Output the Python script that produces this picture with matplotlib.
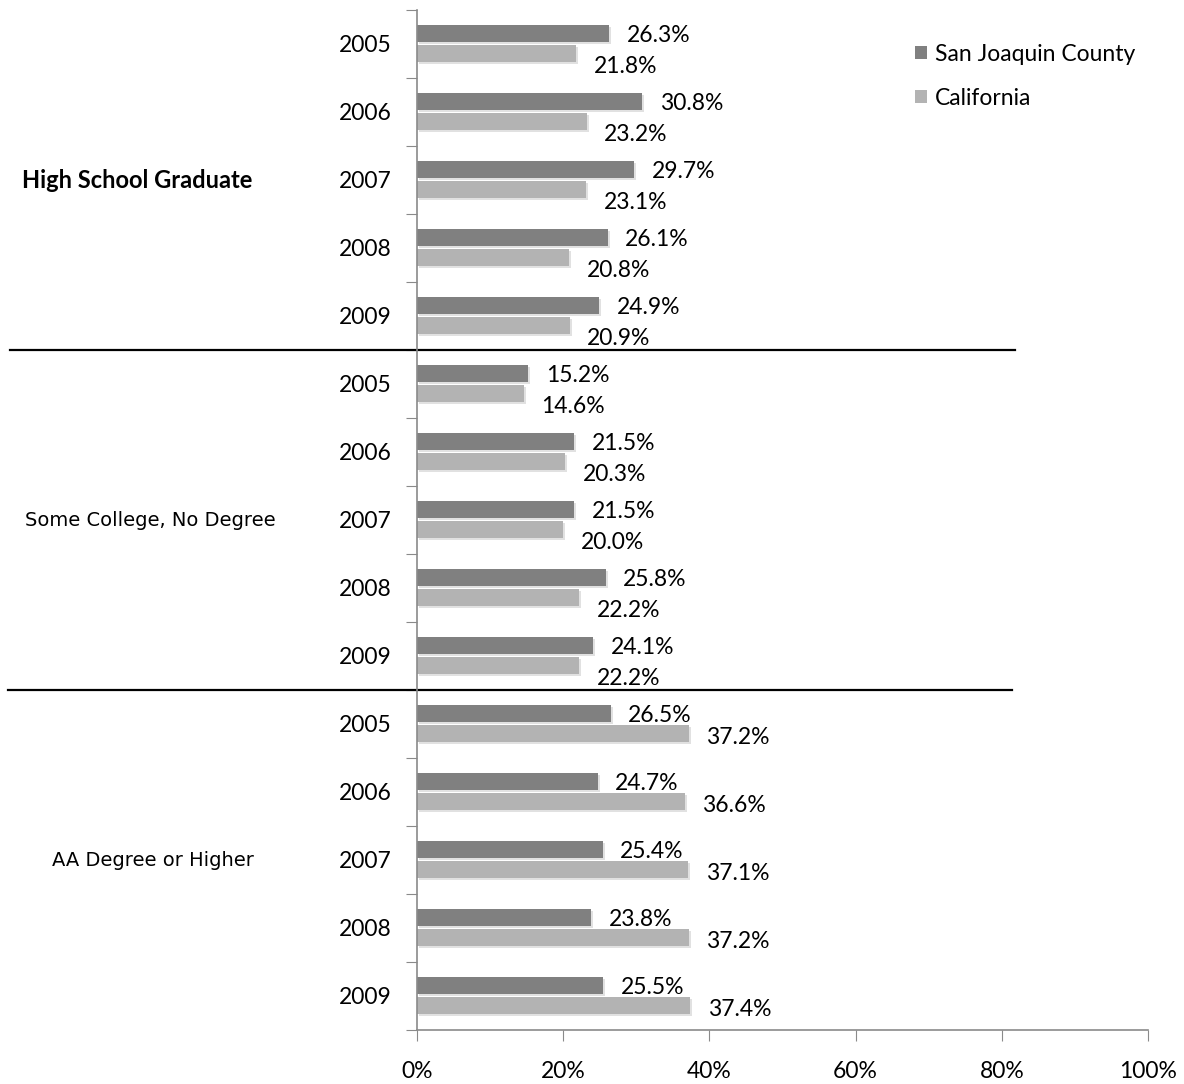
import matplotlib
matplotlib.use("Agg")
import matplotlib.pyplot as plt
import matplotlib.patheffects as pe
from matplotlib.transforms import blended_transform_factory
import numpy as np

categories = ["High School Graduate", "Some College, No Degree", "AA Degree or Higher"]
years = ["2005", "2006", "2007", "2008", "2009"]
series_names = ["San Joaquin County", "California"]

sj_hs = [26.3, 30.8, 29.7, 26.1, 24.9]
ca_hs = [21.8, 23.2, 23.1, 20.8, 20.9]
sj_sc = [15.2, 21.5, 21.5, 25.8, 24.1]
ca_sc = [14.6, 20.3, 20.0, 22.2, 22.2]
sj_aa = [26.5, 24.7, 25.4, 23.8, 25.5]
ca_aa = [37.2, 36.6, 37.1, 37.2, 37.4]

xticks = [0, 20, 40, 60, 80, 100]

dark = "#808080"
light = "#b3b3b3"
axis_gray = "#8a8a8a"
main_font = ["Lato", "DejaVu Sans"]
fs = 16.5

sj = sj_hs + sj_sc + sj_aa
ca = ca_hs + ca_sc + ca_aa
n = len(sj)
pos = np.arange(n)

fig = plt.figure(figsize=(11.84, 10.84), dpi=100)
ax = fig.add_axes([417 / 1184, 1 - 1030 / 1084, (1148 - 417) / 1184, 1020 / 1084])

shadow = [pe.SimplePatchShadow(offset=(1.5, -1.5), shadow_rgbFace="#aaaaaa", alpha=0.35), pe.Normal()]
h = 0.26
b1 = ax.barh(pos - 0.155, sj, height=h, color=dark, label=series_names[0])
b2 = ax.barh(pos + 0.14, ca, height=h, color=light, label=series_names[1])
for bar in list(b1) + list(b2):
    bar.set_path_effects(shadow)

for i in range(n):
    ax.text(sj[i] + 2.4, pos[i] - 0.12, f"{sj[i]:.1f}%", va="center", ha="left",
            fontsize=fs, family=main_font)
    dy = 0.33 if ca[i] < sj[i] + 5 else 0.2
    ax.text(ca[i] + 2.4, pos[i] + dy, f"{ca[i]:.1f}%", va="center", ha="left",
            fontsize=fs, family=main_font)

ax.set_xlim(0, 100)
ax.set_ylim(n - 0.5, -0.5)
ax.set_xticks(xticks)
ax.set_xticklabels([f"{t}%" for t in xticks], fontsize=fs, family=main_font)
ax.tick_params(axis="x", length=8, pad=14, color=axis_gray, direction="out")

ax.set_yticks(np.arange(n + 1) - 0.5)
ax.set_yticklabels([])
ax.set_yticks(pos, minor=True)
ax.set_yticklabels(years * 3, minor=True, fontsize=fs, family=main_font)
ax.tick_params(axis="y", which="major", length=8, color=axis_gray)
ax.tick_params(axis="y", which="minor", length=0, pad=18)

for s in ["top", "right"]:
    ax.spines[s].set_visible(False)
for s in ["left", "bottom"]:
    ax.spines[s].set_color(axis_gray)
    ax.spines[s].set_linewidth(1.2)

# group separators across the whole figure width
tr = blended_transform_factory(fig.transFigure, ax.transData)
ax.plot([10 / 1184, 1015 / 1184], [4.5, 4.5], color="black", lw=1.6, transform=tr, clip_on=False)
ax.plot([8 / 1184, 1012 / 1184], [9.5, 9.5], color="black", lw=1.6, transform=tr, clip_on=False)

# category labels
ax.text(22 / 1184, 2, categories[0], transform=tr, va="center", ha="left",
        fontsize=17, fontweight="bold", family=main_font)
ax.text(25 / 1184, 7, categories[1], transform=tr, va="center", ha="left",
        fontsize=14, family="DejaVu Sans")
ax.text(52 / 1184, 12, categories[2], transform=tr, va="center", ha="left",
        fontsize=14, family="DejaVu Sans")

leg = ax.legend(loc="upper left", bbox_to_anchor=(894 / 1184, 1 - 23 / 1084),
                bbox_transform=fig.transFigure, frameon=False,
                prop={"family": main_font, "size": fs},
                handlelength=0.55, handleheight=0.45, handletextpad=0.35, labelspacing=1.0)
for hnd in leg.legend_handles:
    hnd.set_path_effects([])

fig.savefig("out.png", dpi=100)
